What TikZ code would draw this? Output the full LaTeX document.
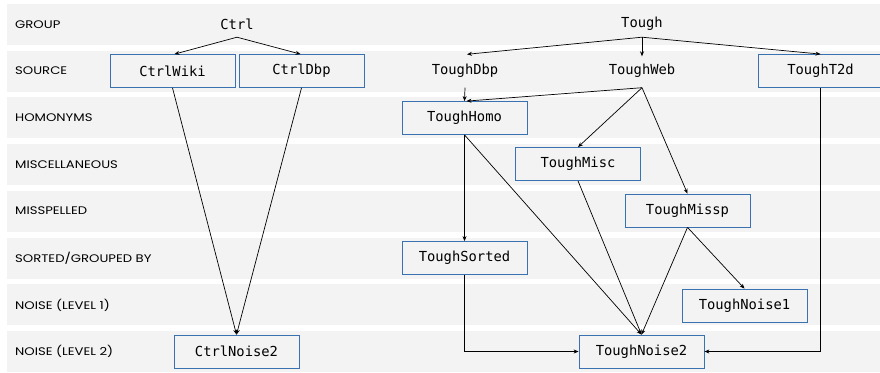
\documentclass[tikz,border=0pt]{standalone}
\usepackage{fontspec}
\setmainfont{Poppins}
\newfontfamily\labelfont[FakeStretch=1.2]{Poppins}
\newfontfamily\boxmono{DejaVu Sans Mono}
\usetikzlibrary{arrows.meta}
\definecolor{bandgray}{HTML}{F3F3F3}
\definecolor{boxblue}{HTML}{3A71B0}
\tikzset{
  band/.style={fill=bandgray, draw=none},
  rowlabel/.style={anchor=west, inner sep=0pt, font=\labelfont\fontsize{11}{13}\selectfont},
  gbox/.style={draw=boxblue, line width=0.8pt, fill=bandgray, minimum width=125pt, minimum height=33pt, inner sep=0pt, font=\boxmono\fontsize{13.8}{15}\selectfont},
  gtext/.style={minimum width=125pt, minimum height=33pt, inner sep=0pt, font=\boxmono\fontsize{13.8}{15}\selectfont},
  ghead/.style={minimum width=60pt, minimum height=26pt, inner sep=0pt, font=\boxmono\fontsize{13.8}{15}\selectfont},
  conn/.style={line width=0.7pt, -{Stealth[length=5pt,width=4pt]}}
}
\begin{document}
\begin{tikzpicture}[x=1pt,y=-1pt]
\useasboundingbox (0,0) rectangle (880,372);
\clip (0,0) rectangle (880,372);
\foreach \t in {4,50.7,97.4,144.1,190.8,237.5,284.2,330.9} {
  \fill[band] (7,\t) rectangle (880,\t+41);
}
\node[rowlabel] (lgroup) at (15,24.5) {GROUP};
\node[rowlabel] (lsource) at (15,71) {SOURCE};
\node[rowlabel] (lhomo) at (15,118) {HOMONYMS};
\node[rowlabel] (lmisc) at (15,164.5) {MISCELLANEOUS};
\node[rowlabel] (lmissp) at (15,211) {MISSPELLED};
\node[rowlabel] (lsorted) at (15,258) {SORTED/GROUPED BY};
\node[rowlabel] (lnoise1) at (15,305) {NOISE (LEVEL 1)};
\node[rowlabel] (lnoise2) at (15,351.5) {NOISE (LEVEL 2)};

\node[ghead] (Ctrl) at (237,24) {Ctrl};
\node[gbox] (CtrlWiki) at (172.5,71) {CtrlWiki};
\node[gbox] (CtrlDbp) at (301.5,71) {CtrlDbp};
\node[gbox] (CtrlNoise2) at (236.5,351.5) {CtrlNoise2};

\node[ghead] (Tough) at (642,24) {Tough};
\node[gtext] (ToughDbp) at (465,71) {ToughDbp};
\node[gtext] (ToughWeb) at (642,71) {ToughWeb};
\node[gbox] (ToughT2d) at (820.5,71) {ToughT2d};
\node[gbox] (ToughHomo) at (464.5,118) {ToughHomo};
\node[gbox] (ToughMisc) at (578,164) {ToughMisc};
\node[gbox] (ToughMissp) at (687.5,210.5) {ToughMissp};
\node[gbox] (ToughSorted) at (464.5,258) {ToughSorted};
\node[gbox] (ToughNoise1) at (744.5,305.5) {ToughNoise1};
\node[gbox] (ToughNoise2) at (641.5,351.5) {ToughNoise2};

\draw[conn] (Ctrl.south) -- ([xshift=2pt]CtrlWiki.north);
\draw[conn] (Ctrl.south) -- ([xshift=-1pt]CtrlDbp.north);
\draw[conn] (CtrlWiki.south) -- (CtrlNoise2.north);
\draw[conn] (CtrlDbp.south) -- (CtrlNoise2.north);

\draw[conn] (Tough.south) -- ([xshift=2pt]ToughDbp.north);
\draw[conn] (Tough.south) -- ([yshift=-2pt]ToughWeb.north);
\draw[conn] (Tough.south) -- (ToughT2d.north);
\draw[conn] (ToughDbp.south) -- (ToughHomo.north);
\draw[conn] (ToughWeb.south) -- ([xshift=2pt]ToughHomo.north);
\draw[conn] (ToughWeb.south) -- (ToughMisc.north);
\draw[conn] (ToughWeb.south) -- (ToughMissp.north);
\draw[conn] (ToughT2d.south) |- (ToughNoise2.east);
\draw[conn] (ToughHomo.south) -- (ToughSorted.north);
\draw[conn] (ToughHomo.south) -- (ToughNoise2.north);
\draw[conn] (ToughMisc.south) -- (ToughNoise2.north);
\draw[conn] (ToughMissp.south) -- (ToughNoise2.north);
\draw[conn] (ToughMissp.south) -- (ToughNoise1.north);
\draw[conn] (ToughSorted.south) |- (ToughNoise2.west);
\end{tikzpicture}
\end{document}
